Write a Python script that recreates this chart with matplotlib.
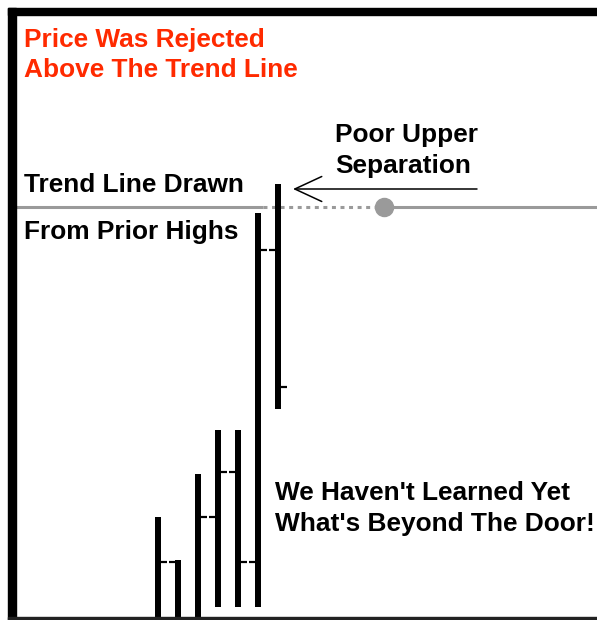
import numpy as np
import matplotlib
matplotlib.use("Agg")
import matplotlib.pyplot as plt
from matplotlib.patches import Rectangle

# OHLC bars (price units, nan = no tick shown)
bars = np.arange(7)
high = [10.1, 5.8, 14.4, 18.8, 18.8, 40.5, 43.4]
low = [0.0, 0.0, 0.0, 1.1, 1.1, 1.1, 20.9]
opens = [np.nan, 5.6, np.nan, 10.1, 14.6, 5.6, 36.8]
closes = [5.6, np.nan, 10.1, 14.6, 5.6, 36.8, 23.1]

trend_level = 41.1
trend_start = -7.1
trend_break = 5.25      # where the solid trend line stops
trend_dot = 11.3        # the grey dot on the line
arrow_tip = (6.75, 42.9)
arrow_tail = (15.95, 42.9)

W, H = 597, 620
fig = plt.figure(figsize=(W / 100, H / 100), dpi=100)
ax = fig.add_axes([0, 0, 1, 1])
ax.set_xlim(-7.9, 21.95)
ax.set_ylim(-0.2, 61.8)
ax.axis("off")

def px(x, y):
    # pixel position -> figure fraction
    return x / W, 1 - y / H

# trend line
grey = "#9a9a9a"
ax.plot([trend_start, trend_break], [trend_level] * 2, color=grey, lw=2.2, solid_capstyle="butt", zorder=1)
ax.plot([trend_break, trend_dot], [trend_level] * 2, color=grey, lw=2.2,
        linestyle=(0, (1.3, 1.5)), dash_capstyle="butt", zorder=1)
ax.plot([trend_dot, 21.95], [trend_level] * 2, color=grey, lw=2.2, solid_capstyle="butt", zorder=1)
ax.plot([trend_dot], [trend_level], "o", color=grey, ms=13, mec=grey, zorder=2)

# bars
tick = 0.45
for i in bars:
    ax.plot([i, i], [low[i], high[i]], color="black", lw=4.32, solid_capstyle="butt", zorder=3)
    if not np.isnan(opens[i]):
        ax.plot([i - tick, i], [opens[i]] * 2, color="black", lw=1.6, solid_capstyle="butt", zorder=3)
    if not np.isnan(closes[i]):
        ax.plot([i, i + tick], [closes[i]] * 2, color="black", lw=1.6, solid_capstyle="butt", zorder=3)

# arrow
ax.annotate("", xy=arrow_tip, xytext=arrow_tail,
            arrowprops=dict(arrowstyle="->, head_length=1.94, head_width=0.9",
                            mutation_scale=10, lw=1.1, color="black",
                            shrinkA=0, shrinkB=0))

# frame
fig.patches.append(Rectangle(px(8, 15), (W - 8) / W, 7 / H, transform=fig.transFigure,
                             color="black", zorder=10))
fig.patches.append(Rectangle(px(8, 620), 8 / W, 612 / H, transform=fig.transFigure,
                             color="black", zorder=10))
fig.patches.append(Rectangle(px(8, 620), (W - 8) / W, 3 / H, transform=fig.transFigure,
                             color="#222222", zorder=10))

font = dict(family=["Liberation Sans", "DejaVu Sans"], fontsize=18.9, fontweight="bold",
            va="baseline", ha="left")
red = "#ff2a00"
fig.text(*px(24, 47.5), "Price Was Rejected", color=red, **font)
fig.text(*px(24, 77), "Above The Trend Line", color=red, **font)
fig.text(*px(24, 192), "Trend Line Drawn", color="black", **font)
fig.text(*px(24, 239), "From Prior Highs", color="black", **font)
fig.text(*px(335, 142), "Poor Upper", color="black", **font)
fig.text(*px(335, 173), "Separation", color="black", **font)
fig.text(*px(275, 500), "We Haven't Learned Yet", color="black", **font)
fig.text(*px(275, 531), "What's Beyond The Door!", color="black", **font)

fig.savefig("out.png", dpi=100, facecolor="white")
